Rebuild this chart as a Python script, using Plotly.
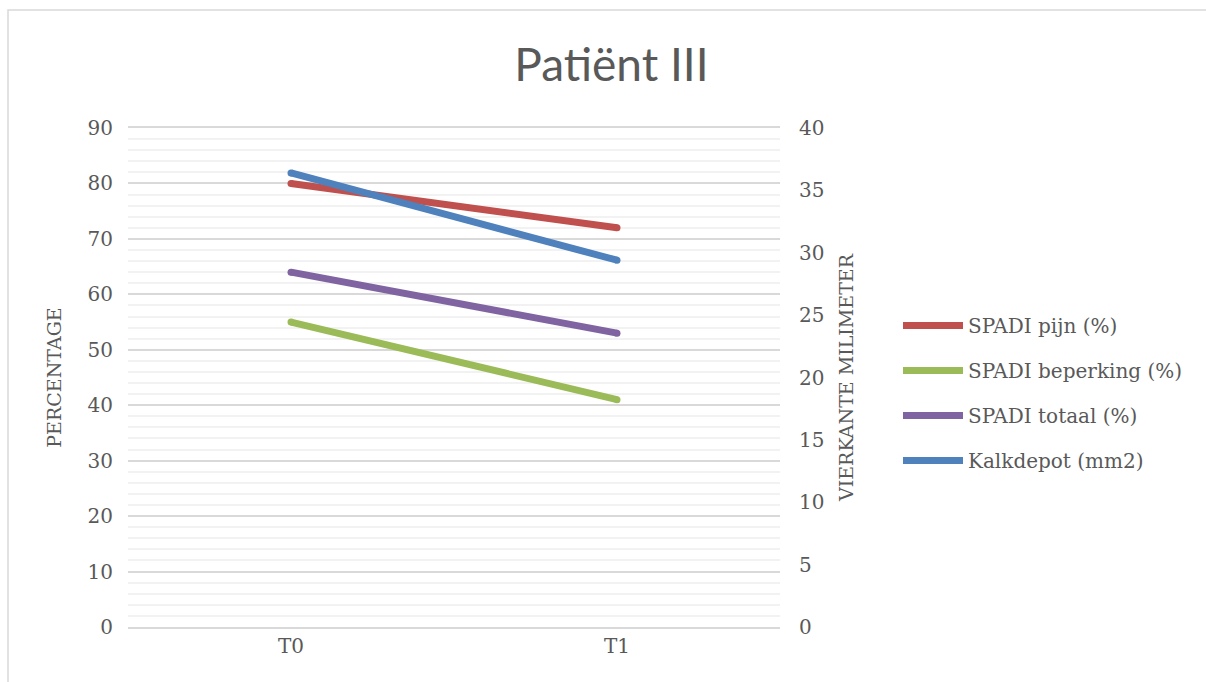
import plotly.graph_objects as go

# Meetmomenten en meetwaarden
tijdstippen = ["T0", "T1"]
spadi_pijn = [80, 72]
spadi_beperking = [55, 41]
spadi_totaal = [64, 53]
kalkdepot_mm2 = [36.4, 29.4]

series = [
    ("SPADI pijn (%)", spadi_pijn, "#C0504D", "y"),
    ("SPADI beperking (%)", spadi_beperking, "#9BBB59", "y"),
    ("SPADI totaal (%)", spadi_totaal, "#8064A2", "y"),
    ("Kalkdepot (mm2)", kalkdepot_mm2, "#4F81BD", "y2"),
]

SERIF = "DejaVu Serif"
TXT = "#595959"
W, H = 1206, 682
L, R, T, B = 128, 426, 128, 55
pw, ph = W - L - R, H - T - B

fig = go.Figure()
for name, vals, color, yax in series:
    fig.add_trace(go.Scatter(
        x=tijdstippen, y=vals, name=name, yaxis=yax, mode="lines+markers",
        legendgroup=name,
        line=dict(color=color, width=7),
        marker=dict(color=color, size=7, line=dict(width=0)),
    ))

fig.update_layout(
    width=W, height=H,
    margin=dict(l=L, r=R, t=T, b=B),
    paper_bgcolor="white", plot_bgcolor="white",
    title=dict(text="Patiënt III", x=0.507, xanchor="center", y=1 - 65 / H, yanchor="middle",
               font=dict(family="Lato", size=46, color=TXT)),
    font=dict(family=SERIF, color=TXT),
    xaxis=dict(type="category", range=[-0.5, 1.5], showgrid=False, zeroline=False,
               showline=True, mirror=True, linecolor="#D9D9D9", linewidth=1.5,
               ticks="", tickfont=dict(size=20, color=TXT)),
    yaxis=dict(range=[0, 90], dtick=10, showgrid=True, gridcolor="#D9D9D9", gridwidth=1.5,
               zeroline=False, showline=False, ticks="", ticklabelstandoff=14,
               minor=dict(dtick=2, showgrid=True, gridcolor="#F2F2F2", gridwidth=1.5),
               tickfont=dict(size=20, color=TXT),
               title=dict(text="PERCENTAGE", font=dict(size=19, color=TXT), standoff=20)),
    yaxis2=dict(range=[0, 40], dtick=5, overlaying="y", side="right", showgrid=False,
                zeroline=False, showline=False, ticks="", ticklabelstandoff=18,
                tickfont=dict(size=20, color=TXT),
                title=dict(text="VIERKANTE MILIMETER", font=dict(size=19, color=TXT), standoff=16)),
    legend=dict(x=(898 - L) / pw, xanchor="left", y=(627 - 393) / ph, yanchor="middle",
                itemwidth=60, tracegroupgap=16, font=dict(family=SERIF, size=20, color=TXT),
                bgcolor="rgba(0,0,0,0)"),
    showlegend=True,
)

# kader rond de grafiek
fig.add_shape(type="rect", xref="paper", yref="paper",
              x0=(8 - L) / pw, x1=(W + 5 - L) / pw,
              y0=(627 - (H + 5)) / ph, y1=(627 - 10) / ph,
              line=dict(color="#D9D9D9", width=1.5), fillcolor="rgba(0,0,0,0)", layer="below")

fig.write_html("out.html")
